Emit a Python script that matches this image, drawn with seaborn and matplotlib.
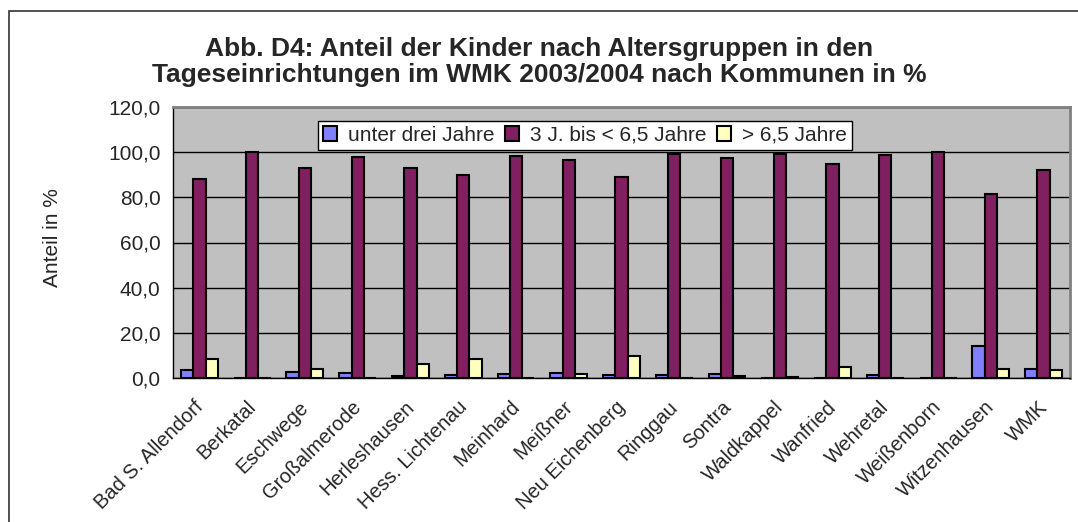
import matplotlib
matplotlib.use('Agg')
import matplotlib.pyplot as plt
import matplotlib.transforms as mtransforms
import seaborn as sns
import pandas as pd
import numpy as np
from matplotlib.ticker import FuncFormatter
from matplotlib.patches import Rectangle

kommunen = ['Bad S. Allendorf', 'Berkatal', 'Eschwege', 'Großalmerode', 'Herleshausen',
            'Hess. Lichtenau', 'Meinhard', 'Meißner', 'Neu Eichenberg', 'Ringgau', 'Sontra',
            'Waldkappel', 'Wanfried', 'Wehretal', 'Weißenborn', 'Witzenhausen', 'WMK']
gruppen = ['unter drei Jahre', '3 J. bis < 6,5 Jahre', '> 6,5 Jahre']
unter_drei = [3.6, 0.0, 2.8, 2.4, 1.0, 1.5, 1.8, 2.1, 1.4, 1.2, 1.8, 0.0, 0.0, 1.2, 0.0, 14.2, 4.0]
drei_bis_65 = [88.0, 100.0, 93.2, 97.8, 93.0, 89.8, 98.2, 96.4, 88.9, 99.0, 97.6, 99.2, 94.6, 98.6, 100.0, 81.4, 92.2]
ueber_65 = [8.4, 0.0, 4.0, 0.0, 6.1, 8.5, 0.0, 1.8, 9.6, 0.0, 0.7, 0.6, 5.0, 0.0, 0.0, 4.1, 3.7]

df = pd.DataFrame({'Kommune': kommunen * 3,
                   'Gruppe': [gruppen[0]] * 17 + [gruppen[1]] * 17 + [gruppen[2]] * 17,
                   'Anteil': unter_drei + drei_bis_65 + ueber_65})

farben = ['#8080FF', '#802060', '#FFFFC0']

sns.set_theme(style='white')
plt.rcParams['font.family'] = ['Liberation Sans', 'DejaVu Sans']

fig = plt.figure(figsize=(10.78, 5.22), dpi=100)
ax = fig.add_axes([173 / 1078, 1 - 378 / 522, (1070 - 173) / 1078, (378 - 107) / 522])
ax.set_facecolor('#C0C0C0')

sns.barplot(data=df, x='Kommune', y='Anteil', hue='Gruppe', palette=farben,
            width=0.7, edgecolor='black', linewidth=1.5, ax=ax, saturation=1)

ax.set_ylim(0, 120)
ax.set_xlim(-0.5, 16.5)
ax.set_yticks(np.arange(0, 121, 20))
ax.yaxis.set_major_formatter(FuncFormatter(lambda v, p: f'{v:.1f}'.replace('.', ',')))
ax.grid(axis='y', color='black', linewidth=1)
ax.set_axisbelow(True)

# ticks between categories like Excel
ax.set_xticks(np.arange(-0.5, 17, 1), minor=True)
ax.tick_params(axis='x', which='major', length=0, pad=14)
ax.tick_params(axis='x', which='minor', length=5, width=1, color='black', direction='out')
ax.tick_params(axis='y', length=5, width=1, color='black', direction='out', labelsize=15, pad=4)
ax.set_xticks(range(17))
ax.set_xticklabels(kommunen, rotation=45, ha='right', rotation_mode='anchor', fontsize=14.5)
# nudge labels a bit to the left
shift = mtransforms.ScaledTranslation(-6 / 100, 0, fig.dpi_scale_trans)
for lbl in ax.get_xticklabels():
    lbl.set_transform(lbl.get_transform() + shift)

for s in ['left', 'bottom']:
    ax.spines[s].set_color('black')
    ax.spines[s].set_linewidth(1)
for s in ['top', 'right']:
    ax.spines[s].set_color('#808080')
    ax.spines[s].set_linewidth(2)

ax.set_xlabel('')
ax.set_ylabel('')
fig.text(52 / 1078, 1 - 238 / 522, 'Anteil in %', rotation=90, ha='center', va='center', fontsize=15)

ax.legend(loc='upper center', bbox_to_anchor=(0.459, 0.95), ncol=3, frameon=True,
          fancybox=False, edgecolor='black', facecolor='white', framealpha=1,
          fontsize=15, handlelength=0.7, handleheight=0.7, handletextpad=0.5,
          columnspacing=0.5, borderpad=0.25, borderaxespad=0)

fig.text(0.5, 1 - 62 / 522, 'Abb. D4: Anteil der Kinder nach Altersgruppen in den\n'
         'Tageseinrichtungen im WMK 2003/2004 nach Kommunen in %',
         ha='center', va='center', fontsize=19, fontweight='bold', linespacing=1.08)

fig.patches.append(Rectangle((8.5 / 1078, -0.1), 1.2, 1 - 10.5 / 522 + 0.1,
                             transform=fig.transFigure, fill=False,
                             edgecolor='#333333', linewidth=1.2))

fig.savefig('out.png', dpi=100, facecolor='white')
